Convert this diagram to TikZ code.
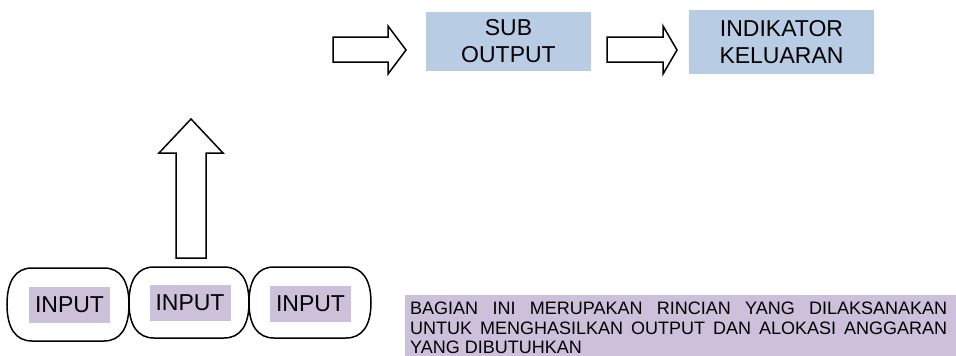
\documentclass[tikz,border=0pt]{standalone}
\usepackage{fontspec}
\setmainfont{Liberation Sans}
\definecolor{boxblue}{HTML}{B8CCE4}
\definecolor{lav}{HTML}{CCC0DA}
\begin{document}
\begin{tikzpicture}[x=1pt,y=-1pt,
  bluebox/.style={fill=boxblue,draw=none,inner sep=0pt,align=center,font=\fontsize{23}{27}\selectfont},
  inlabel/.style={fill=lav,draw=none,inner sep=0pt,minimum width=81pt,minimum height=36pt,font=\fontsize{23}{26}\selectfont},
  inbox/.style={draw=black,line width=1.5pt},
  blockarrow/.style={draw=black,line width=1.5pt,fill=white,line join=miter},
  notetext/.style={anchor=base west,inner sep=0pt,font=\fontsize{18}{20}\selectfont}]
\useasboundingbox (0,0) rectangle (956,356);
% top boxes
\node[bluebox,minimum width=165pt,minimum height=59pt] (sub) at (508.5,41.5) {SUB\\OUTPUT};
\node[bluebox,minimum width=185pt,minimum height=64pt] (ind) at (781.5,42) {INDIKATOR\\KELUARAN};
% right arrows
\draw[blockarrow] (333,37) -- (388,37) -- (388,26) -- (406,50) -- (388,74) -- (388,62) -- (333,62) -- cycle;
\draw[blockarrow] (607,37) -- (663,37) -- (663,26) -- (677,50) -- (663,74) -- (663,62) -- (607,62) -- cycle;
% up arrow
\draw[blockarrow] (176,258) -- (176,153) -- (159,153) -- (191,119) -- (223,153) -- (206,153) -- (206,258) -- cycle;
% input boxes
\draw[inbox] (32,268) -- (104,268) .. controls (120.25,268) and (129,280.8) .. (129,304.5) .. controls (129,328.2) and (120.25,341) .. (104,341) -- (32,341) .. controls (15.75,341) and (7,328.2) .. (7,304.5) .. controls (7,280.8) and (15.75,268) .. (32,268) -- cycle;
\draw[inbox] (154,267) -- (224,267) .. controls (240.25,267) and (249,279.4) .. (249,302.5) .. controls (249,325.6) and (240.25,338) .. (224,338) -- (154,338) .. controls (137.75,338) and (129,325.6) .. (129,302.5) .. controls (129,279.4) and (137.75,267) .. (154,267) -- cycle;
\draw[inbox] (274,267) -- (346,267) .. controls (362.25,267) and (371,279.4) .. (371,302.5) .. controls (371,325.6) and (362.25,338) .. (346,338) -- (274,338) .. controls (257.75,338) and (249,325.6) .. (249,302.5) .. controls (249,279.4) and (257.75,267) .. (274,267) -- cycle;
\node[inlabel] (in1) at (69.5,305) {INPUT};
\node[inlabel] (in2) at (190,303) {INPUT};
\node[inlabel] (in3) at (310.5,304) {INPUT};
% note
\fill[lav] (405,295) rectangle (956,356);
\node[notetext] (note1) at (410,314.5) {\makebox[537pt][s]{BAGIAN INI MERUPAKAN RINCIAN YANG DILAKSANAKAN}};
\node[notetext] (note2) at (410,334) {\makebox[537pt][s]{UNTUK MENGHASILKAN OUTPUT DAN ALOKASI ANGGARAN}};
\node[notetext] (note3) at (410,353.5) {YANG DIBUTUHKAN};
\end{tikzpicture}
\end{document}
